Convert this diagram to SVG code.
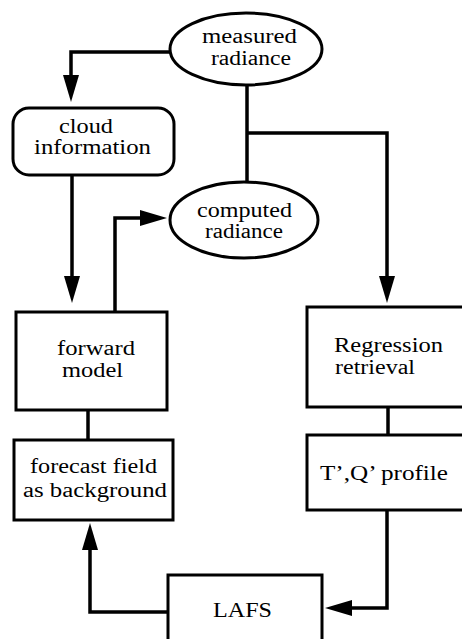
<svg xmlns="http://www.w3.org/2000/svg" width="462" height="639" viewBox="0 0 462 639">
<style>
.n{fill:#fff;stroke:#000;stroke-width:3}
.c{fill:none;stroke:#000;stroke-width:3.5}
.t{font-family:"Liberation Serif","Times New Roman",serif;font-size:20.5px;fill:#000}
</style>
<defs>
<marker id="ah" markerUnits="userSpaceOnUse" markerWidth="30" markerHeight="18" refX="17" refY="8" orient="auto">
<path d="M0,0 L27,8 L0,16 z" fill="#000"/>
</marker>
</defs>
<rect width="462" height="639" fill="#fff"/>
<g id="connectors">
<path class="c" d="M170,52 H71 V92" marker-end="url(#ah)"/>
<path class="c" d="M247,85 V182"/>
<path class="c" d="M247,133 H387 V293" marker-end="url(#ah)"/>
<path class="c" d="M72,175 V293" marker-end="url(#ah)"/>
<path class="c" d="M115,312 V218 H157" marker-end="url(#ah)"/>
<path class="c" d="M88,410 V440"/>
<path class="c" d="M388,407 V435"/>
<path class="c" d="M387,510 V608 H335" marker-end="url(#ah)"/>
<path class="c" d="M168,612 H90 V533" marker-end="url(#ah)"/>
</g>
<g id="measured">
<ellipse class="n" cx="246" cy="49" rx="76" ry="36"/>
<text class="t" x="202" y="43" textLength="95" lengthAdjust="spacingAndGlyphs">measured</text>
<text class="t" x="211" y="65" textLength="80" lengthAdjust="spacingAndGlyphs">radiance</text>
</g>
<g id="cloud">
<rect class="n" x="13" y="108" width="161" height="67" rx="16"/>
<text class="t" x="59" y="133" textLength="54" lengthAdjust="spacingAndGlyphs">cloud</text>
<text class="t" x="34" y="154" textLength="117" lengthAdjust="spacingAndGlyphs">information</text>
</g>
<g id="computed">
<ellipse class="n" cx="244" cy="220" rx="74" ry="38"/>
<text class="t" x="197" y="217" textLength="95" lengthAdjust="spacingAndGlyphs">computed</text>
<text class="t" x="205" y="238" textLength="78" lengthAdjust="spacingAndGlyphs">radiance</text>
</g>
<g id="forward">
<rect class="n" x="16" y="312" width="151" height="98"/>
<text class="t" x="57" y="355" textLength="78" lengthAdjust="spacingAndGlyphs">forward</text>
<text class="t" x="62" y="377" textLength="61" lengthAdjust="spacingAndGlyphs">model</text>
</g>
<g id="regression">
<rect class="n" x="307" y="307" width="160" height="100"/>
<text class="t" x="334" y="352" textLength="109" lengthAdjust="spacingAndGlyphs">Regression</text>
<text class="t" x="335" y="374" textLength="80" lengthAdjust="spacingAndGlyphs">retrieval</text>
</g>
<g id="forecast">
<rect class="n" x="14" y="440" width="159" height="80"/>
<text class="t" x="30" y="473" textLength="127" lengthAdjust="spacingAndGlyphs">forecast field</text>
<text class="t" x="23" y="497" textLength="144" lengthAdjust="spacingAndGlyphs">as background</text>
</g>
<g id="profile">
<rect class="n" x="307" y="435" width="160" height="75"/>
<text class="t" x="320" y="480" textLength="128" lengthAdjust="spacingAndGlyphs">T’,Q’ profile</text>
</g>
<g id="lafs">
<rect class="n" x="168" y="575" width="154" height="75"/>
<text class="t" x="213" y="617" textLength="59" lengthAdjust="spacingAndGlyphs">LAFS</text>
</g>
</svg>
